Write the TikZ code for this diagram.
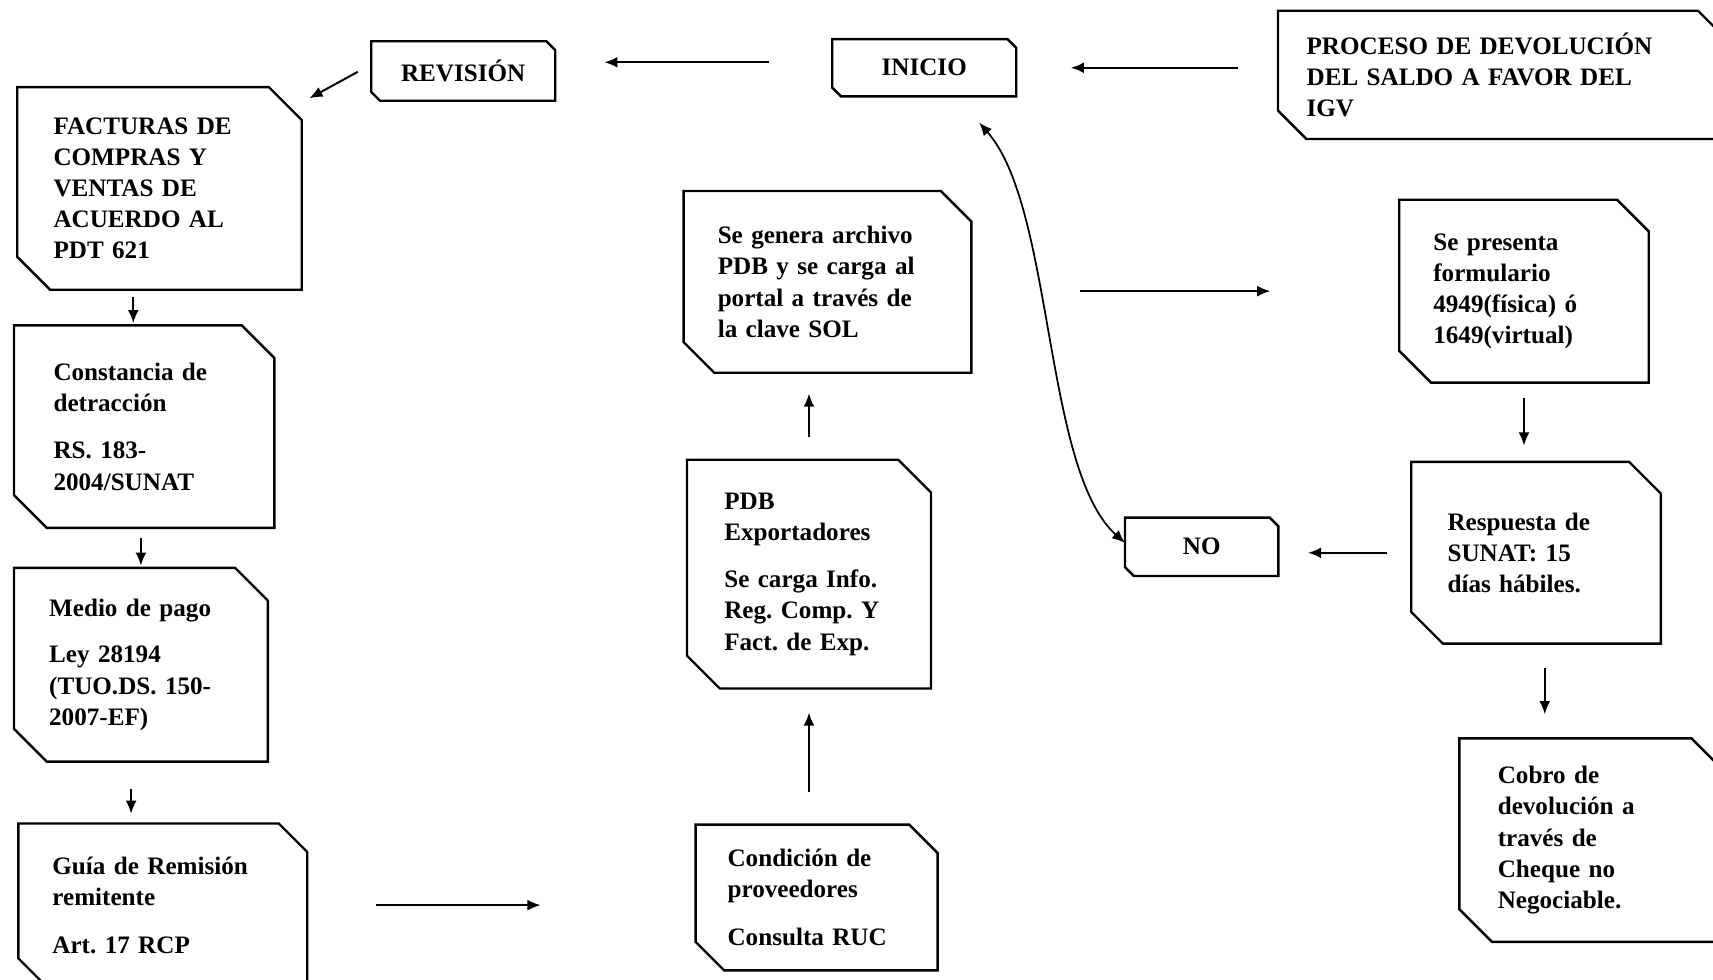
\documentclass[tikz,border=0pt]{standalone}
\usepackage{fontspec}
\setmainfont{Liberation Serif}
\usetikzlibrary{arrows.meta}

% outline with the top right and bottom left corners cut off
\newcommand{\cutframe}[2]{%
  \draw[frame] (#1.north west) -- ([xshift=-#2]#1.north east)
    -- ([yshift=-#2]#1.north east) -- (#1.south east)
    -- ([xshift=#2]#1.south west) -- ([yshift=#2]#1.south west) -- cycle;}

\begin{document}
\frenchspacing
\begin{tikzpicture}[x=1pt, y=-1pt, >={Latex[length=12pt,width=10pt]},
    frame/.style={line width=2.2pt},
    link/.style={->, line width=1.8pt},
    stage/.style={inner sep=0pt, align=left, font=\fontsize{23}{28.5}\selectfont\bfseries},
    tag/.style={inner sep=0pt, align=center, font=\fontsize{23}{28.5}\selectfont\bfseries}]

    \path[use as bounding box, fill=white] (0,0) rectangle (1568,897);

    % top row
    \node[tag, minimum width=168, minimum height=54] (revision) at (424,65) {REVISIÓN};
    \node[tag, minimum width=168, minimum height=52] (inicio) at (846,62) {INICIO};
    \node[stage, minimum width=410, minimum height=117, text width=358] (proceso) at (1375,68.5)
        {PROCESO DE DEVOLUCIÓN\\DEL SALDO A FAVOR DEL\\IGV};

    % left column
    \node[stage, minimum width=260, minimum height=185, text width=194] (facturas) at (146,172.5)
        {FACTURAS DE\\COMPRAS Y\\VENTAS DE\\ACUERDO AL\\PDT 621};
    \node[stage, minimum width=238, minimum height=185, text width=166] (constancia) at (132,390.5)
        {Constancia de\\detracción\\[15pt]RS. 183-\\2004/SUNAT};
    \node[stage, minimum width=232, minimum height=177, text width=168] (medio) at (129,608.5)
        {Medio de pago\\[14pt]Ley 28194\\(TUO.DS. 150-\\2007-EF)};
    \node[stage, minimum width=264, minimum height=149, text width=202] (guia) at (149,828.5)
        {Guía de Remisión\\remitente\\[15pt]Art. 17 RCP};

    % middle column
    \node[stage, minimum width=221, minimum height=133, text width=163] (condicion) at (747.5,821.5)
        {Condición de\\proveedores\\[16pt]Consulta RUC};
    \node[stage, minimum width=223, minimum height=209, text width=155] (pdb) at (740.5,525.5)
        {PDB\\Exportadores\\[15pt]Se carga Info.\\Reg. Comp. Y\\Fact. de Exp.};
    \node[stage, minimum width=263, minimum height=166, text width=201] (segenera) at (757.5,258)
        {Se genera archivo\\PDB y se carga al\\portal a través de\\la clave SOL};

    % right column
    \node[stage, minimum width=228, minimum height=167, text width=166] (sepresenta) at (1395,266.5)
        {Se presenta\\formulario\\4949(física) ó\\1649(virtual)};
    \node[stage, minimum width=228, minimum height=166, text width=162] (respuesta) at (1406,506)
        {Respuesta de\\SUNAT: 15\\días hábiles.};
    \node[tag, minimum width=140, minimum height=53] (no) at (1100,500.5) {NO};
    \node[stage, minimum width=242, minimum height=186, text width=172] (cobro) at (1457,769)
        {Cobro de\\devolución a\\través de\\Cheque no\\Negociable.};

    \foreach \n/\c in {revision/8, inicio/8, no/8, proceso/26, facturas/30, constancia/30,
                       medio/30, guia/26, condicion/26, pdb/30, segenera/28, sepresenta/29,
                       respuesta/29, cobro/30}
        {\cutframe{\n}{\c}}

    % connectors
    \draw[link, shorten <=37pt, shorten >=50pt] (proceso.west |- inicio.east) -- (inicio.east);
    \draw[link, shorten <=58pt, shorten >=45pt] ([yshift=5pt]inicio.west) -- ([yshift=5pt]inicio.west -| revision.east);
    \draw[link, shorten <=14pt, shorten >=8pt] ([yshift=6pt]revision.west) -- ([yshift=-14pt]facturas.north east);
    \draw[link, shorten <=7pt, shorten >=2pt] ([xshift=-10pt]constancia.north |- facturas.south) -- ([xshift=-10pt]constancia.north);
    \draw[link, shorten <=9pt, shorten >=2pt] (medio.north |- constancia.south) -- (medio.north);
    \draw[link, shorten <=25pt, shorten >=9pt] ([xshift=-9pt]medio.south) -- ([xshift=-9pt]medio.south |- guia.north);
    \draw[link, shorten <=63pt, shorten >=142pt] (guia.east) -- (guia.east -| condicion.west);
    \draw[link, shorten <=30pt, shorten >=22pt] (pdb.south |- condicion.north) -- (pdb.south);
    \draw[link, shorten <=21pt, shorten >=19pt] (pdb.north) -- (pdb.north |- segenera.south);
    \draw[link, shorten <=99pt, shorten >=118pt] (segenera.east |- sepresenta.west) -- (sepresenta.west);
    \draw[link, shorten <=14pt, shorten >=15pt] (sepresenta.south) -- (sepresenta.south |- respuesta.north);
    \draw[link, shorten <=22pt, shorten >=27pt] (respuesta.west) -- (respuesta.west -| no.east);
    \draw[link, shorten <=22pt, shorten >=22pt] ([xshift=8pt]respuesta.south) -- ([xshift=8pt]respuesta.south |- cobro.north);
    \draw[<->, line width=1.6pt] ([xshift=-34pt,yshift=-24pt]inicio.south east)
        .. controls (965,190) and (955,430) .. ([yshift=3.5pt]no.west);
\end{tikzpicture}
\end{document}
